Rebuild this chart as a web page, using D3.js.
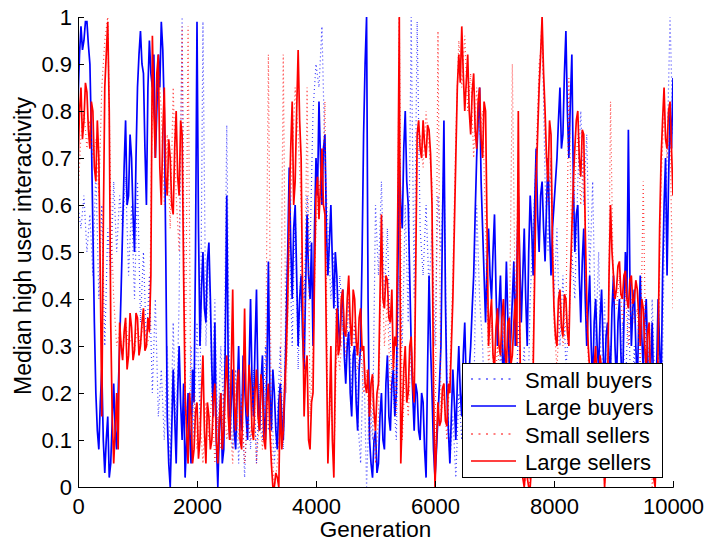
<!DOCTYPE html>
<html><head><meta charset="utf-8">
<script src="https://cdn.jsdelivr.net/npm/d3@7"></script>
<style>body{margin:0;background:#fff}svg{display:block}text{font-family:"Liberation Sans",Arial,Helvetica,sans-serif}</style>
</head><body><svg id="c" width="709" height="544"></svg>
<script>
// generation step of the samples
const smallStep = 50;
const largeStep = 25;
const xTicks = [0, 2000, 4000, 6000, 8000, 10000];
const yTicks = [0, 0.1, 0.2, 0.3, 0.4, 0.5, 0.6, 0.7, 0.8, 0.9, 1];
const seriesNames = ["Small buyers", "Large buyers", "Small sellers", "Large sellers"];

const smallBuyers = [0.60,0.55,0.62,0.50,0.58,0.45,0.68,0.40,0.60,0.30,0.55,0.45,0.65,0.50,0.62,0.55,0.66,0.45,0.60,0.40,
0.65,0.35,0.50,0.30,0.45,0.20,0.40,0.15,0.25,0.10,0.30,0.05,0.35,0.10,0.40,1.00,0.20,0.05,0.30,0.10,
0.35,0.15,0.99,0.30,0.50,0.20,0.40,0.10,0.30,0.15,0.77,0.20,0.08,0.25,0.05,0.20,0.02,0.18,0.08,0.25,
0.05,0.22,0.10,0.30,0.12,0.18,0.05,0.15,0.30,0.08,0.45,0.55,0.30,0.60,0.25,0.50,0.40,0.62,0.50,0.80,
0.90,0.85,0.98,0.70,0.55,0.40,0.50,0.30,0.45,0.35,0.25,0.40,0.20,0.35,0.15,0.05,0.30,0.00,0.20,0.10,
0.60,0.45,0.65,0.40,0.55,0.30,0.20,0.10,0.45,0.30,0.60,0.35,1.00,0.40,0.99,0.55,0.45,0.60,0.42,0.55,
0.30,0.62,0.50,0.70,0.25,0.05,0.15,0.02,0.20,0.10,0.25,0.05,0.20,0.15,0.60,0.40,0.30,0.10,0.25,0.08,
0.20,0.05,0.30,0.10,0.25,0.05,0.20,0.10,0.35,0.20,0.30,0.10,0.40,0.55,0.70,0.85,1.00,0.65,0.50,0.70,
0.40,0.55,0.30,0.45,0.25,0.35,0.50,0.40,0.65,0.80,0.60,0.75,0.45,0.65,0.30,0.50,0.20,0.40,0.10,0.30,
0.05,0.25,0.10,0.35,0.20,0.40,0.15,0.30,0.05,0.25,0.10,0.35,0.15,0.40,0.20,0.30,0.05,0.50,0.70,1.00,0.75];

const largeBuyers = [
0.82,0.92,0.98,0.93,0.95,0.99,0.99,0.94,0.90,0.75,0.55,0.35,0.20,0.12,0.08,0.18,0.25,0.10,0.03,0.10,
0.15,0.02,0.05,0.14,0.22,0.12,0.08,0.20,0.30,0.42,0.55,0.68,0.78,0.60,0.62,0.75,0.70,0.58,0.50,0.70,
0.85,0.92,0.97,0.90,0.88,0.72,0.60,0.85,0.95,0.88,0.85,0.92,0.70,0.80,0.92,0.85,0.99,0.93,0.80,0.50,
0.15,0.05,0.00,0.12,0.25,0.15,0.05,0.20,0.30,0.18,0.10,0.22,0.02,0.10,0.20,0.12,0.05,0.25,0.18,0.50,
0.99,0.55,0.30,0.42,0.50,0.38,0.35,0.48,0.52,0.40,0.25,0.15,0.35,0.10,0.00,0.12,0.20,0.05,0.08,0.30,
0.62,0.25,0.10,0.18,0.25,0.12,0.08,0.20,0.30,0.15,0.12,0.28,0.22,0.15,0.10,0.25,0.40,0.22,0.15,0.30,
0.42,0.20,0.12,0.22,0.28,0.15,0.10,0.25,0.48,0.20,0.12,0.25,0.20,0.12,0.08,0.18,0.22,0.15,0.10,0.20,
0.35,0.50,0.68,0.52,0.40,0.55,0.60,0.45,0.30,0.40,0.45,0.32,0.25,0.42,0.58,0.45,0.40,0.52,0.30,0.55,
0.70,0.62,0.82,0.70,0.60,0.72,0.75,0.55,0.45,0.52,0.60,0.48,0.38,0.50,0.45,0.35,0.30,0.38,0.42,0.28,
0.22,0.30,0.33,0.20,0.15,0.28,0.30,0.18,0.12,0.25,0.30,0.50,0.75,0.90,1.00,0.40,0.10,0.05,0.02,0.10,
0.12,0.03,0.05,0.15,0.20,0.10,0.08,0.22,0.28,0.15,0.12,0.22,0.25,0.15,0.20,0.45,0.70,0.60,0.55,0.72,
0.80,0.65,0.60,0.45,0.30,0.20,0.12,0.22,0.20,0.12,0.10,0.20,0.18,0.08,0.02,0.25,0.45,0.30,0.20,0.08,
0.02,0.08,0.15,0.22,0.30,0.55,0.78,0.40,0.20,0.12,0.05,0.15,0.25,0.18,0.10,0.22,0.30,0.20,0.15,0.28,
0.35,0.22,0.18,0.25,0.30,0.38,0.45,0.58,0.70,0.78,0.85,0.65,0.55,0.45,0.35,0.48,0.55,0.45,0.40,0.50,
0.58,0.42,0.30,0.38,0.45,0.32,0.20,0.35,0.48,0.35,0.25,0.32,0.40,0.48,0.30,0.45,0.62,0.48,0.35,0.45,
0.55,0.40,0.30,0.50,0.62,0.55,0.45,0.60,0.72,0.58,0.50,0.62,0.65,0.55,0.48,0.60,0.70,0.55,0.45,0.55,
0.60,0.65,0.70,0.78,0.85,0.72,0.75,0.88,0.97,0.80,0.70,0.82,0.92,0.65,0.50,0.58,0.60,0.45,0.35,0.48,
0.55,0.40,0.30,0.38,0.45,0.30,0.22,0.35,0.40,0.30,0.25,0.36,0.42,0.30,0.20,0.32,0.35,0.28,0.25,0.38,
0.45,0.30,0.22,0.35,0.40,0.28,0.20,0.35,0.50,0.40,0.76,0.45,0.30,0.38,0.42,0.30,0.22,0.35,0.45,0.32,
0.25,0.35,0.40,0.28,0.15,0.25,0.35,0.20,0.08,0.25,0.40,0.30,0.20,0.45,0.60,0.70,0.45,0.65,0.80,0.72,
0.87];

const smallSellers = [0.62,0.75,0.80,0.72,0.78,0.70,0.74,0.62,0.85,0.95,1.00,0.60,0.40,0.30,0.33,0.28,0.35,0.30,0.32,0.29,
0.34,0.30,0.36,0.30,0.32,0.85,0.75,0.90,0.80,0.60,0.75,0.55,0.85,0.62,0.50,0.98,0.15,0.98,0.10,0.20,
0.08,0.15,0.05,0.18,0.10,0.20,0.05,0.15,0.08,0.20,0.10,0.15,0.05,0.20,0.10,0.18,0.05,0.15,0.10,0.22,
0.05,0.15,0.08,0.20,0.92,0.10,0.00,0.05,0.15,0.92,0.20,0.50,0.70,0.85,0.75,0.60,0.20,0.85,0.15,0.30,
0.55,0.65,0.60,0.82,0.10,0.20,0.05,0.30,0.25,0.35,0.28,0.40,0.30,0.35,0.25,0.30,0.20,0.25,0.10,0.20,
0.05,0.15,0.50,0.30,0.40,0.20,0.30,0.15,1.00,0.10,0.25,0.15,0.30,0.20,0.70,0.75,0.68,0.80,0.72,0.65,
0.02,0.97,0.15,0.20,0.10,0.25,0.45,0.75,0.95,0.85,0.96,0.80,0.88,0.70,0.85,0.75,0.80,0.55,0.25,0.35,
0.20,0.30,0.22,0.35,0.20,0.30,0.90,0.35,0.70,0.10,0.00,0.05,0.00,0.30,0.70,0.90,0.95,0.75,0.60,0.70,
0.35,0.25,0.40,0.30,0.35,0.87,0.50,0.65,0.75,0.60,0.70,0.35,0.20,0.10,0.25,0.15,0.20,0.00,0.15,0.82,
0.40,0.38,0.45,0.35,0.42,0.30,0.40,0.35,0.38,0.25,0.65,0.20,0.30,0.00,0.05,0.25,0.65,0.80,0.70,0.75,0.38];

const largeSellers = [
0.68,0.80,0.85,0.74,0.78,0.86,0.84,0.76,0.72,0.82,0.80,0.68,0.65,0.78,0.70,0.45,0.15,0.55,0.85,0.92,
0.99,0.80,0.35,0.15,0.05,0.12,0.20,0.08,0.35,0.30,0.27,0.33,0.36,0.25,0.28,0.37,0.34,0.27,0.29,0.37,
0.36,0.28,0.30,0.35,0.38,0.29,0.30,0.36,0.33,0.45,0.96,0.80,0.70,0.88,0.92,0.68,0.60,0.75,0.85,0.66,
0.62,0.74,0.70,0.60,0.58,0.72,0.80,0.66,0.62,0.78,0.75,0.45,0.20,0.12,0.05,0.20,0.15,0.05,0.08,0.16,
0.18,0.06,0.10,0.20,0.28,0.12,0.05,0.18,0.15,0.08,0.10,0.18,0.22,0.10,0.05,0.14,0.20,0.08,0.12,0.22,
0.28,0.15,0.10,0.25,0.42,0.18,0.12,0.22,0.25,0.10,0.08,0.20,0.38,0.18,0.15,0.26,0.22,0.12,0.10,0.20,
0.25,0.15,0.12,0.24,0.20,0.10,0.08,0.18,0.22,0.12,0.05,0.00,0.00,0.03,0.02,0.00,0.20,0.08,0.12,0.22,
0.28,0.40,0.60,0.72,0.82,0.60,0.65,0.80,0.93,0.78,0.70,0.40,0.15,0.25,0.28,0.10,0.08,0.18,0.20,0.45,
0.62,0.66,0.57,0.64,0.72,0.60,0.58,0.30,0.05,0.15,0.30,0.10,0.02,0.25,0.38,0.28,0.30,0.40,0.42,0.33,
0.32,0.40,0.45,0.35,0.30,0.42,0.40,0.31,0.28,0.36,0.38,0.29,0.30,0.22,0.20,0.25,0.15,0.22,0.24,0.16,
0.12,0.20,0.22,0.40,0.58,0.40,0.38,0.45,0.44,0.36,0.35,0.42,0.25,0.32,0.30,0.60,1.00,0.05,0.15,0.25,
0.30,0.18,0.20,0.30,0.32,0.22,0.18,0.45,0.75,0.78,0.72,0.70,0.78,0.73,0.70,0.77,0.76,0.71,0.60,0.20,
0.00,0.10,0.18,0.13,0.14,0.21,0.22,0.14,0.13,0.22,0.20,0.30,0.40,0.55,0.70,0.85,0.92,0.86,0.98,0.88,
0.80,0.86,0.92,0.80,0.75,0.84,0.88,0.76,0.72,0.82,0.85,0.74,0.70,0.82,0.80,0.55,0.30,0.36,0.40,0.28,
0.25,0.34,0.38,0.30,0.28,0.36,0.40,0.30,0.25,0.35,0.36,0.26,0.28,0.35,0.40,0.30,0.80,0.35,0.05,0.02,
0.00,0.04,0.02,0.00,0.00,0.05,0.25,0.45,0.65,0.75,0.85,0.92,1.00,0.88,0.80,0.70,0.65,0.78,0.75,0.50,
0.38,0.32,0.30,0.40,0.42,0.34,0.32,0.41,0.40,0.33,0.30,0.45,0.55,0.65,0.72,0.78,0.80,0.70,0.66,0.76,
0.75,0.55,0.40,0.30,0.25,0.18,0.15,0.26,0.30,0.20,0.18,0.28,0.25,0.10,0.00,0.05,0.20,0.45,0.60,0.50,
0.45,0.40,0.42,0.47,0.48,0.41,0.40,0.45,0.46,0.40,0.38,0.44,0.45,0.39,0.40,0.44,0.42,0.36,0.30,0.40,
0.38,0.30,0.25,0.33,0.35,0.20,0.05,0.02,0.00,0.10,0.30,0.55,0.70,0.78,0.85,0.74,0.72,0.80,0.82,0.72,
0.62];

const W = 709, H = 544;
const m = {left: 78, right: 36, top: 17, bottom: 57};
const svg = d3.select("#c");
const x = d3.scaleLinear().domain([0, 10000]).range([m.left, W - m.right]);
const y = d3.scaleLinear().domain([0, 1]).range([H - m.bottom, m.top]);

svg.append("defs").append("clipPath").attr("id", "clip")
  .append("rect").attr("x", m.left).attr("y", m.top - 1).attr("width", W - m.left - m.right).attr("height", H - m.top - m.bottom + 2);

const lineFor = st => d3.line().x((d, i) => x(i * st)).y(d => y(d));
const styles = [
  {data: smallBuyers, st: smallStep, color: "#0000ff", dash: "1,3", width: 1.2, opacity: 0.75},
  {data: largeBuyers, st: largeStep, color: "#0000ff", dash: null, width: 1.7, opacity: 1},
  {data: smallSellers, st: smallStep, color: "#ff0000", dash: "1,3", width: 1.2, opacity: 0.75},
  {data: largeSellers, st: largeStep, color: "#ff0000", dash: null, width: 1.7, opacity: 1}
];
const g = svg.append("g").attr("clip-path", "url(#clip)");
styles.forEach(s => {
  g.append("path").attr("d", lineFor(s.st)(s.data)).attr("fill", "none")
    .attr("stroke", s.color).attr("stroke-width", s.width)
    .attr("stroke-opacity", s.opacity)
    .attr("stroke-dasharray", s.dash);
});

// axes
const xAxis = d3.axisBottom(x).tickValues(xTicks).tickSize(-6).tickPadding(11).tickFormat(d3.format("d"));
const yAxis = d3.axisLeft(y).tickValues(yTicks).tickSize(-6).tickPadding(6).tickFormat(d => d === 0 || d === 1 ? String(d) : d3.format(".1f")(d));
const gx = svg.append("g").attr("transform", `translate(0,${H - m.bottom})`).call(xAxis);
const gy = svg.append("g").attr("transform", `translate(${m.left},0)`).call(yAxis);
[gx, gy].forEach(a => {
  a.select(".domain").attr("stroke", "#000").attr("stroke-width", 1);
  a.selectAll(".tick line").attr("stroke", "#000");
  a.selectAll("text").attr("font-size", 22).attr("fill", "#000").attr("font-family", "Liberation Sans, Arial, sans-serif");
});

svg.append("text").attr("x", x(5000)).attr("y", 537).attr("text-anchor", "middle")
  .attr("font-size", 22.5).text("Generation");
svg.append("text").attr("transform", `translate(31,246) rotate(-90)`).attr("text-anchor", "middle")
  .attr("font-size", 23).text("Median high user interactivity");

// legend
const lg = svg.append("g");
lg.append("rect").attr("x", 462.5).attr("y", 363.5).attr("width", 200).attr("height", 114)
  .attr("fill", "#fff").attr("stroke", "#000").attr("stroke-width", 1);
styles.forEach((s, i) => {
  const yy = Math.round(378.5 + i * 27.5);
  lg.append("line").attr("x1", 471).attr("x2", 516).attr("y1", yy).attr("y2", yy)
    .attr("stroke", s.color).attr("stroke-width", 2)
    .attr("stroke-dasharray", s.dash ? "2,5.5" : null).attr("stroke-opacity", s.dash ? 0.5 : 0.75);
  lg.append("text").attr("x", 525).attr("y", yy + 9).attr("font-size", 22).text(seriesNames[i]);
});
</script></body></html>
